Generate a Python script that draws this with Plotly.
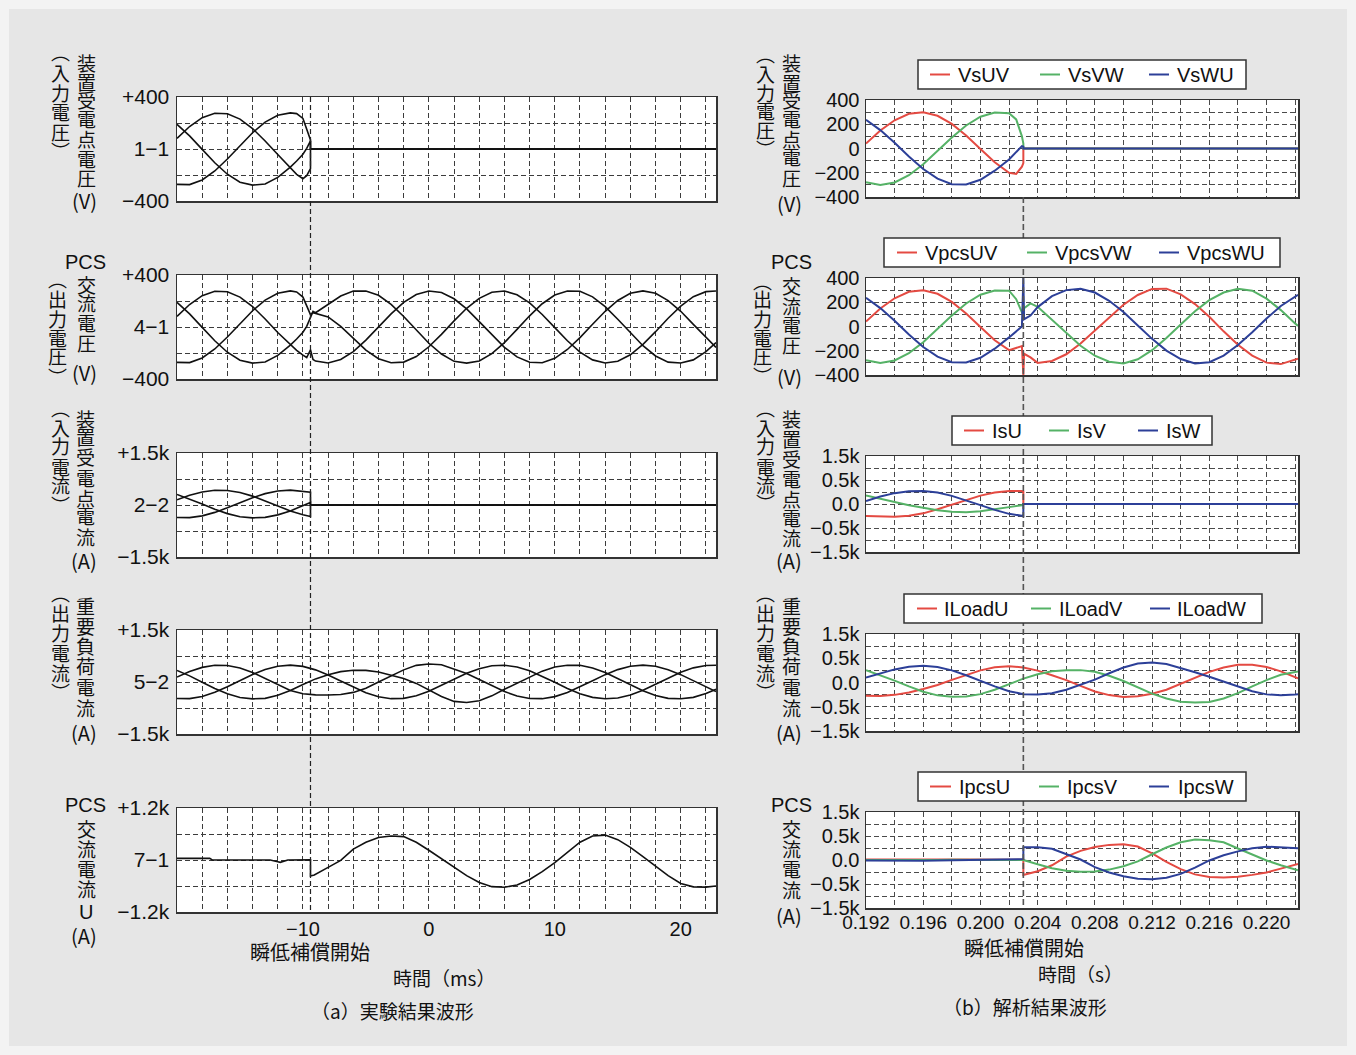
import plotly.graph_objects as go

W, H = 1356, 1055
CJK = "Noto Sans CJK JP"
LAT = "Liberation Sans, Arial, sans-serif"

# ======================= DATA =======================
# ---- (a) experimental waveforms, time in ms ----
EVENT_A_MS = -9.4

T_A1 = [-20, -19, -18, -17, -16, -15, -14, -13, -12, -11, -10.5, -10, -9.7, -9.4, -9.4, 22.8]
VS_A_1 = [82, 173, 241, 275, 271, 230, 157, 62, -42, -139, -195, -228, -205, -150, 0, 0]
VS_A_2 = [-272, -274, -238, -169, -77, 26, 125, 207, 260, 278, 272, 235, 150, 70, 0, 0]
VS_A_3 = [190, 101, -3, -106, -194, -256, -278, -269, -218, -139, -92, -40, 5, 62, 0, 0]

T_A2 = [-20, -19, -18, -17, -16, -15, -14, -13, -12, -11, -10.5, -10, -9.7, -9.4, -9.2, -9,
        -8, -7, -6, -5, -4, -3, -2, -1, 0, 1, 2, 3, 4, 5, 6, 7, 8, 9, 10, 11, 12, 13, 14, 15, 16,
        17, 18, 19, 20, 21, 22, 22.8]
VPCS_A_1 = [82, 173, 241, 275, 271, 230, 157, 62, -42, -139, -180, -217, -235, -175, -250, -262,
            -277, -250, -189, -101, 0, 101, 189, 250, 277, 265, 217, 139, 41, -62, -157, -230, -271, -275, -241, -173, -82, 21, 121, 204, 259,
            278, 259, 203, 121, 20, -82, -157]
VPCS_A_2 = [-272, -274, -238, -169, -77, 26, 125, 207, 260, 278, 270, 230, 160, 95, 110, 105,
            78, 5, -87, -178, -244, -275, -270, -227, -152, -57, 47, 144, 220, 267, 277, 248, 185, 96, -5, -106, -193, -253, -277, -264, -214,
            -134, -36, 67, 161, 233, 272, 277]
VPCS_A_3 = [190, 101, -3, -106, -194, -256, -278, -269, -218, -139, -92, -40, 5, 80, 120, 110,
            175, 238, 276, 277, 244, 174, 81, -23, -125, -208, -264, -278, -261, -205, -120, -18, 86, 179, 246, 277, 275, 232, 156, 60, -45,
            -144, -223, -270, -277, -253, -190, -120]

T_A3 = [-20, -19, -18, -17, -16, -15, -14, -13, -12, -11, -10, -9.4, -9.4, 22.8]
IS_A_1 = [148, 279, 377, 426, 420, 361, 256, 119, -30, -170, -282, -330, 0, 0]
IS_A_2 = [-362, -365, -313, -213, -81, 67, 210, 328, 404, 430, 400, 370, 0, 0]
IS_A_3 = [304, 175, 26, -123, -249, -339, -370, -357, -284, -170, -28, 73, 0, 0]

T_A4 = [-20, -19, -18, -17, -16, -15, -14, -13, -12, -11, -10, -9, -8, -7, -6, -5, -4, -3, -2, -1,
        0, 1, 2, 3, 4, 5, 6, 7, 8, 9, 10, 11, 12, 13, 14, 15, 16, 17, 18, 19, 20, 21, 22, 22.8]
ILOAD_A_1 = [144, 303, 422, 481, 474, 403, 275, 109, -74, -243, -340, -370, -375, -360, -300, -177, 0, 177, 350, 480,
             520, 500, 380, 243, 72, -109, -275, -403, -474, -481, -422, -303, -144, 37, 212, 357, 453, 487, 453, 355, 212, 35, -144, -275]
ILOAD_A_2 = [-476, -480, -417, -296, -135, 46, 219, 362, 455, 487, 450, 350, 203, 28, -152, -312, -427, -481, -473, -397,
             -266, -100, 82, 252, 385, 467, 485, 434, 324, 168, -9, -186, -338, -443, -485, -462, -375, -235, -63, 117, 282, 408, 476, 485]
ILOAD_A_3 = [333, 177, -5, -186, -340, -448, -487, -471, -382, -243, -70, 90, 210, 300, 340, 335, 290, 200, 100, -40,
             -219, -420, -560, -590, -540, -400, -210, -32, 151, 313, 431, 485, 481, 406, 273, 105, -79, -252, -390, -473, -485, -443, -333, -210]

T_A5 = [-20, -17.4, -17.2, -12.6, -12.0, -11.8, -11.2, -9.4, -9.4, -9.1,
        -8, -7, -6, -5, -4, -3, -2, -1, 0, 1, 2, 3, 4, 5, 6, 7, 8, 9, 10, 11, 12, 13, 14, 15, 16, 17, 18, 19, 20, 21, 22, 22.8]
IPCS_A_U = [38, 38, 0, 0, -40, -55, 0, 5, -370, -345,
            -170, -10, 250, 410, 520, 555, 540, 410, 225, 30, -160, -360, -520, -615, -630, -575, -450, -270, -60, 180, 410, 555, 575, 470, 290, 80, -140, -360, -540, -620, -625, -600]

# ---- (b) simulation waveforms, time in s ----
EVENT_B_S = 0.2030

T_B1 = [0.192, 0.193, 0.194, 0.195, 0.196, 0.197, 0.198, 0.199, 0.200, 0.201, 0.202, 0.2025, 0.2029, 0.2030, 0.2030, 0.2222]
VS_UV = [41, 148, 233, 286, 299, 270, 203, 107, -4, -114, -200, -210, -150, -120, 0, 0]
VS_VW = [-278, -300, -280, -220, -130, -21, 91, 190, 262, 297, 291, 240, 100, 40, 0, 0]
VS_WU = [237, 152, 47, -66, -169, -249, -294, -297, -258, -183, -91, -30, 20, 15, 0, 0]

T_B2 = [0.192, 0.193, 0.194, 0.195, 0.196, 0.197, 0.198, 0.199, 0.200, 0.201, 0.202,
        0.2025, 0.2029, 0.2030, 0.20305, 0.2035,
        0.204, 0.205, 0.206, 0.207, 0.208, 0.209, 0.210, 0.211, 0.212, 0.213, 0.214, 0.215, 0.216, 0.217, 0.218, 0.219, 0.220, 0.221, 0.222, 0.2222]
VPCS_UV = [41, 148, 233, 286, 299, 270, 203, 107, -4, -114, -195,
           -178, -162, -400, -225, -255,
           -300, -284, -229, -141, -34, 78, 179, 260, 310, 312, 265, 185, 80, -40, -150, -240, -298, -310, -275, -265]
VPCS_VW = [-278, -300, -280, -220, -130, -21, 91, 190, 262, 297, 295,
           225, 115, 90, 150, 190,
           163, 58, -54, -159, -241, -290, -305, -270, -195, -95, 17, 126, 217, 280, 312, 295, 230, 135, 25, 5]
VPCS_WU = [237, 152, 47, -66, -169, -249, -294, -297, -258, -183, -90,
           -40, 0, 400, 60, 90,
           160, 250, 300, 312, 280, 212, 119, 9, -102, -199, -268, -305, -295, -240, -152, -47, 66, 169, 249, 261]

T_B3 = [0.192, 0.193, 0.194, 0.195, 0.196, 0.197, 0.198, 0.199, 0.200, 0.201, 0.202, 0.2029, 0.2030, 0.2030, 0.2222]
IS_U = [-250, -262, -265, -245, -195, -110, -15, 85, 175, 240, 272, 270, 262, 0, 0]
IS_V = [180, 110, 40, -25, -80, -130, -160, -170, -150, -115, -65, -25, -10, 0, 0]
IS_W = [60, 155, 226, 268, 272, 238, 170, 79, -24, -123, -205, -245, -250, 0, 0]

T_B4 = [0.192, 0.193, 0.194, 0.195, 0.196, 0.197, 0.198, 0.199, 0.200, 0.201, 0.202, 0.203, 0.204, 0.205, 0.206, 0.207,
        0.208, 0.209, 0.210, 0.211, 0.212, 0.213, 0.214, 0.215, 0.216, 0.217, 0.218, 0.219, 0.220, 0.221, 0.222, 0.2222]
ILOAD_U = [-272, -276, -255, -205, -135, -50, 55, 160, 250, 315, 335, 310, 245, 150, 50, -70,
           -185, -260, -297, -285, -230, -150, -30, 100, 220, 310, 365, 368, 320, 230, 110, 85]
ILOAD_V = [255, 150, 40, -80, -190, -265, -295, -290, -240, -150, -30, 80, 170, 230, 255, 255,
           220, 140, 30, -100, -230, -330, -395, -414, -400, -330, -220, -80, 50, 160, 220, 228]
ILOAD_W = [100, 190, 270, 325, 345, 320, 250, 150, 30, -80, -180, -240, -248, -220, -150, -50,
           60, 190, 310, 390, 414, 380, 300, 210, 120, 20, -80, -180, -245, -262, -245, -240]

T_B5 = [0.192, 0.193, 0.194, 0.195, 0.196, 0.197, 0.198, 0.199, 0.200, 0.201, 0.202, 0.2025, 0.2030, 0.2030,
        0.204, 0.205, 0.206, 0.207, 0.208, 0.209, 0.210, 0.211, 0.212, 0.213, 0.214, 0.215, 0.216, 0.217, 0.218, 0.219, 0.220, 0.221, 0.222, 0.2222]
IPCS_U = [12, 14, 12, 10, 10, 12, 10, 8, 10, 12, 10, 10, 5, -313,
          -235, -110, 70, 190, 270, 315, 326, 280, 140, -40, -190, -300, -355, -362, -350, -310, -260, -180, -100, -85]
IPCS_V = [2, 0, -5, -5, 0, 2, 5, 5, 3, 2, 0, 0, 0, 0,
          -90, -170, -225, -243, -240, -200, -130, -30, 120, 260, 370, 428, 410, 370, 240, 110, -10, -110, -200, -215]
IPCS_W = [-10, -15, -20, -20, -15, -10, -5, -5, -5, 0, 10, 20, 20, 264,
          264, 235, 130, 10, -150, -260, -340, -390, -403, -370, -290, -160, -10, 100, 180, 245, 278, 270, 250, 245]

# axis tick labels
A_XTICKS = [-10, 0, 10, 20]
A_XTEXT = ["\u221210", "0", "10", "20"]
B_XTICKS = [0.192, 0.196, 0.200, 0.204, 0.208, 0.212, 0.216, 0.220]
B_XTEXT = ["0.192", "0.196", "0.200", "0.204", "0.208", "0.212", "0.216", "0.220"]
A_MID = ["1\u22121", "4\u22121", "2\u22122", "5\u22122", "7\u22121"]
B_V_TEXT = ["\u2212400", "\u2212200", "0", "200", "400"]
B_I_TEXT = ["\u22121.5k", "\u22120.5k", "0.0", "0.5k", "1.5k"]

# ======================= FIGURE =======================
def X(px):
    return px / W


def Y(py):
    return 1 - py / H


RED, GREEN, BLUE = "#e44a42", "#55b266", "#2c3f98"
BLACK = "#111111"

fig = go.Figure()


def sfx(i):
    return "" if i == 1 else str(i)


def add(xs, ys, i, color, name, width):
    fig.add_trace(go.Scatter(x=xs, y=ys, xaxis="x" + sfx(i), yaxis="y" + sfx(i), mode="lines",
                             line=dict(color=color, width=width), name=name,
                             showlegend=False, hoverinfo="skip"))


# (a)
for s in (VS_A_1, VS_A_2, VS_A_3):
    add(T_A1, s, 1, BLACK, "Vs", 1.6)
for s in (VPCS_A_1, VPCS_A_2, VPCS_A_3):
    add(T_A2, s, 2, BLACK, "Vpcs", 1.6)
for s in (IS_A_1, IS_A_2, IS_A_3):
    add(T_A3, s, 3, BLACK, "Is", 1.6)
for s in (ILOAD_A_1, ILOAD_A_2, ILOAD_A_3):
    add(T_A4, s, 4, BLACK, "ILoad", 1.6)
add(T_A5, IPCS_A_U, 5, BLACK, "IpcsU", 1.6)

# (b)
for s, c, n in ((VS_UV, RED, "VsUV"), (VS_VW, GREEN, "VsVW"), (VS_WU, BLUE, "VsWU")):
    add(T_B1, s, 6, c, n, 2)
for s, c, n in ((VPCS_UV, RED, "VpcsUV"), (VPCS_VW, GREEN, "VpcsVW"), (VPCS_WU, BLUE, "VpcsWU")):
    add(T_B2, s, 7, c, n, 2)
for s, c, n in ((IS_U, RED, "IsU"), (IS_V, GREEN, "IsV"), (IS_W, BLUE, "IsW")):
    add(T_B3, s, 8, c, n, 2)
for s, c, n in ((ILOAD_U, RED, "ILoadU"), (ILOAD_V, GREEN, "ILoadV"), (ILOAD_W, BLUE, "ILoadW")):
    add(T_B4, s, 9, c, n, 2)
for s, c, n in ((IPCS_U, RED, "IpcsU"), (IPCS_V, GREEN, "IpcsV"), (IPCS_W, BLUE, "IpcsW")):
    add(T_B5, s, 10, c, n, 2)

LEFT_X = (177, 716)
RIGHT_X = (866, 1298)
LEFT_Y = [(97, 201), (275, 379), (453, 557), (630, 734), (808, 912)]
RIGHT_Y = [(100, 197), (278, 375), (456, 552), (634, 731), (812, 908)]

GRID_A = dict(color="#3c3c3c", dash="5px,3px")
GRID_B = dict(color="#4a4a4a", dash="5px,3px")

layout = dict(template="none", width=W, height=H, autosize=False,
              margin=dict(l=0, r=0, t=0, b=0, pad=0),
              paper_bgcolor="#e6e6e6", plot_bgcolor="white", showlegend=False)


def frame_common(grid):
    return dict(showline=True, mirror=True, linecolor="#333333", linewidth=1.5, zeroline=False,
                automargin=False, ticks="", showgrid=True, gridcolor=grid["color"],
                griddash=grid["dash"], gridwidth=1)


for k in range(5):
    i = k + 1
    yr = [(-400, 400), (-400, 400), (-1500, 1500), (-1500, 1500), (-1200, 1200)][k]
    ytop = ["+400", "+400", "+1.5k", "+1.5k", "+1.2k"][k]
    ybot = ["\u2212400", "\u2212400", "\u22121.5k", "\u22121.5k", "\u22121.2k"][k]
    xa = frame_common(GRID_A)
    xa.update(domain=[X(LEFT_X[0]), X(LEFT_X[1])], anchor="y" + sfx(i), range=[-20, 22.8],
              tickmode="array", tickvals=A_XTICKS, ticktext=A_XTEXT, showticklabels=(i == 5),
              tickfont=dict(family=LAT, size=20, color=BLACK), ticklabelstandoff=-2,
              minor=dict(dtick=2, tick0=0, showgrid=True, gridcolor=GRID_A["color"],
                         griddash=GRID_A["dash"], gridwidth=1))
    ya = frame_common(GRID_A)
    ya.update(domain=[Y(LEFT_Y[k][1]), Y(LEFT_Y[k][0])], anchor="x" + sfx(i), range=list(yr),
              tickmode="array", tickvals=[yr[0], 0, yr[1]], ticktext=[ybot, A_MID[k], ytop],
              tickfont=dict(family=LAT, size=21, color=BLACK), ticklabelstandoff=2,
              minor=dict(dtick=yr[1] / 2, tick0=0, showgrid=True, gridcolor=GRID_A["color"],
                         griddash=GRID_A["dash"], gridwidth=1))
    layout["xaxis" + sfx(i)] = xa
    layout["yaxis" + sfx(i)] = ya

for k in range(5):
    i = k + 6
    xa = frame_common(GRID_B)
    xa.update(domain=[X(RIGHT_X[0]), X(RIGHT_X[1])], anchor="y" + sfx(i), range=[0.192, 0.2222],
              tickmode="array", tickvals=B_XTICKS, ticktext=B_XTEXT, showticklabels=(i == 10),
              tickfont=dict(family=LAT, size=19, color=BLACK), ticklabelstandoff=-3,
              minor=dict(dtick=0.002, tick0=0.192, showgrid=True, gridcolor=GRID_B["color"],
                         griddash=GRID_B["dash"], gridwidth=1))
    if k < 2:
        yr, tv, tt, md = (-400, 400), [-400, -200, 0, 200, 400], B_V_TEXT, 100
    else:
        yr, tv, tt, md = (-1000, 1000), [-1000, -500, 0, 500, 1000], B_I_TEXT, 250
    ya = frame_common(GRID_B)
    ya.update(domain=[Y(RIGHT_Y[k][1]), Y(RIGHT_Y[k][0])], anchor="x" + sfx(i), range=list(yr),
              tickmode="array", tickvals=tv, ticktext=tt,
              tickfont=dict(family=LAT, size=20, color=BLACK), ticklabelstandoff=1,
              minor=dict(dtick=md, tick0=0, showgrid=True, gridcolor=GRID_B["color"],
                         griddash=GRID_B["dash"], gridwidth=1))
    layout["xaxis" + sfx(i)] = xa
    layout["yaxis" + sfx(i)] = ya

fig.update_layout(**layout)

shapes = []
# lighter outer rim of the page
shapes.append(dict(type="rect", xref="paper", yref="paper", x0=0, y0=0, x1=1, y1=1,
                   line=dict(color="#f3f3f3", width=18), fillcolor="rgba(0,0,0,0)", layer="below"))

# event lines (瞬低補償開始)
shapes.append(dict(type="line", xref="x5", yref="paper", x0=EVENT_A_MS, x1=EVENT_A_MS,
                   y0=Y(97), y1=Y(912), line=dict(color="#222222", width=1.2, dash="5px,3px"), layer="above"))
shapes.append(dict(type="line", xref="x10", yref="paper", x0=EVENT_B_S, x1=EVENT_B_S,
                   y0=Y(197), y1=Y(908), line=dict(color="#555555", width=1.6, dash="6px,3px"), layer="above"))

annotations = []


def txt(s, x, y, size=19, family=CJK, xanchor="center"):
    annotations.append(dict(text=s, x=X(x), y=Y(y), xref="paper", yref="paper", showarrow=False,
                            xanchor=xanchor, yanchor="middle", borderpad=0,
                            font=dict(family=family, size=size, color=BLACK)))


def vcol(chars, x, ys, size=19, family=CJK):
    for ch, y in zip(chars, ys):
        txt(ch, x, y, size, family)


# legends of (b)
LEGENDS = [
    ((918, 1246, 60, 89), [(930, 950, 957, "VsUV", RED), (1040, 1060, 1067, "VsVW", GREEN), (1149, 1169, 1176, "VsWU", BLUE)]),
    ((884, 1280, 238, 267), [(897, 917, 924, "VpcsUV", RED), (1027, 1047, 1054, "VpcsVW", GREEN), (1159, 1179, 1186, "VpcsWU", BLUE)]),
    ((952, 1212, 416, 445), [(964, 984, 991, "IsU", RED), (1049, 1069, 1076, "IsV", GREEN), (1138, 1158, 1165, "IsW", BLUE)]),
    ((904, 1262, 594, 623), [(917, 937, 943, "ILoadU", RED), (1031, 1051, 1058, "ILoadV", GREEN), (1150, 1170, 1176, "ILoadW", BLUE)]),
    ((918, 1246, 772, 801), [(930, 951, 958, "IpcsU", RED), (1039, 1059, 1066, "IpcsV", GREEN), (1149, 1169, 1177, "IpcsW", BLUE)]),
]
for (bx0, bx1, by0, by1), items in LEGENDS:
    shapes.append(dict(type="rect", xref="paper", yref="paper", x0=X(bx0), x1=X(bx1), y0=Y(by1), y1=Y(by0),
                       line=dict(color="#333333", width=1.5), fillcolor="white", layer="above"))
    yc = (by0 + by1) / 2
    for lx0, lx1, tx, label, col in items:
        shapes.append(dict(type="line", xref="paper", yref="paper", x0=X(lx0), x1=X(lx1), y0=Y(yc), y1=Y(yc),
                           line=dict(color=col, width=2), layer="above"))
        txt(label, tx, yc + 0.5, size=20, family=LAT, xanchor="left")

# ---- vertical y-axis titles, panel (a) ----
vcol("︵入力電圧︶", 60, [52, 72, 92, 112, 132, 150])
vcol("装置受電点電圧", 86, [62, 81, 100, 119, 138, 158, 178])
txt("(V)", 84, 201, 20)
txt("PCS", 85, 262, 20, LAT)
vcol("︵出力電圧︶", 57, [278, 298, 318, 337, 356, 376])
vcol("交流電圧", 86, [284, 303, 323, 342])
txt("(V)", 84, 372, 20)
vcol("︵入力電流︶", 60, [407, 427, 446, 466, 485, 504])
vcol("装置受電点電流", 85, [418, 437, 457, 477, 497, 516, 536])
txt("(A)", 84, 560, 20)
vcol("︵出力電流︶", 60, [592, 612, 632, 652, 672, 691])
vcol("重要負荷電流", 85, [605, 625, 645, 665, 686, 707])
txt("(A)", 84, 732, 20)
txt("PCS", 85, 805, 20, LAT)
vcol("交流電流", 86, [828, 848, 868, 888])
txt("U", 86, 912, 20, LAT)
txt("(A)", 84, 935, 20)

# ---- vertical y-axis titles, panel (b) ----
vcol("︵入力電圧︶", 765, [54, 73, 92, 111, 130, 148])
vcol("装置受電点電圧", 791, [63, 82, 100, 119, 138, 157, 177])
txt("(V)", 789, 203, 20)
txt("PCS", 791, 262, 20, LAT)
vcol("︵出力電圧︶", 762, [280, 299, 318, 337, 356, 375])
vcol("交流電圧", 791, [285, 305, 324, 344])
txt("(V)", 789, 376, 20)
vcol("︵入力電流︶", 765, [407, 427, 446, 466, 485, 503])
vcol("装置受電点電流", 791, [418, 438, 458, 478, 498, 517, 537])
txt("(A)", 789, 560, 20)
vcol("︵出力電流︶", 765, [592, 612, 632, 652, 672, 691])
vcol("重要負荷電流", 791, [605, 625, 645, 665, 686, 707])
txt("(A)", 789, 732, 20)
txt("PCS", 791, 805, 20, LAT)
vcol("交流電流", 791, [828, 848, 868, 889])
txt("(A)", 789, 915, 20)

# ---- bottom texts ----
txt("瞬低補償開始", 310, 951, 20)
txt("時間（ms）", 444, 977, 19)
txt("（a）実験結果波形", 392, 1010, 19)
txt("瞬低補償開始", 1024, 947, 20)
txt("時間（s）", 1080, 973, 19)
txt("（b）解析結果波形", 1025, 1006, 19)

fig.update_layout(shapes=shapes, annotations=annotations)

fig.write_html("out.html", include_plotlyjs=True, full_html=True,
               config={"displayModeBar": False, "staticPlot": True},
               post_script="document.body.style.margin='0';document.body.style.overflow='hidden';")
